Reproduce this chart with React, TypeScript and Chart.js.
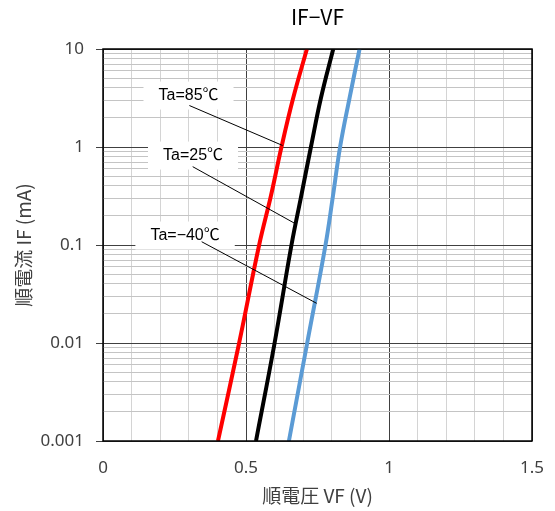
import React, { useEffect, useRef } from "react";
import { Chart, registerables } from "chart.js";

Chart.register(...registerables);

// ---- Data ----
const CURRENT_MA = [0.001, 0.01, 0.1, 0.316, 1, 3.16, 10];
const VF_85C = [0.402, 0.476, 0.546, 0.587, 0.624, 0.665, 0.713];
const VF_25C = [0.535, 0.6, 0.659, 0.693, 0.727, 0.762, 0.805];
const VF_M40C = [0.65, 0.714, 0.778, 0.804, 0.829, 0.862, 0.897];

const SERIES_NAMES = ["Ta=85℃", "Ta=25℃", "Ta=−40℃"];
const SERIES_COLORS = ["#FF0000", "#000000", "#5B9BD5"];

const X_GRID = [0, 0.1, 0.2, 0.3, 0.4, 0.5, 0.6, 0.7, 0.8, 0.9, 1, 1.1, 1.2, 1.3, 1.4, 1.5];
const X_LABEL_VALUES = [0, 0.5, 1, 1.5];
const X_LABELS = ["0", "0.5", "1", "1.5"];
const Y_DECADES = [0.001, 0.01, 0.1, 1, 10];
const Y_LABELS = ["0.001", "0.01", "0.1", "1", "10"];

// label text centre (x: V, y: mA), leader start, leader end
const LABEL_POS_X = [0.299, 0.3147, 0.287];
const LABEL_POS_Y = [3.35, 0.818, 0.125];
const LEADER_START_X = [0.302, 0.3136, 0.345];
const LEADER_START_Y = [2.65, 0.63, 0.108];
const LEADER_END_X = [0.628, 0.671, 0.747];
const LEADER_END_Y = [1.036, 0.166, 0.0254];

const TITLE = "IF−VF";
const X_TITLE = "順電圧 VF (V)";
const Y_TITLE = "順電流 IF (mA)";

const Y_GRID: number[] = [];
Y_DECADES.forEach((d, i) => {
  if (i === Y_DECADES.length - 1) {
    Y_GRID.push(d);
    return;
  }
  for (let m = 1; m <= 9; m++) Y_GRID.push(+(d * m).toPrecision(6));
});

const isDecade = (v: number) => {
  const l = Math.log10(v);
  return Math.abs(l - Math.round(l)) < 1e-6;
};
const isHalf = (v: number) => X_LABEL_VALUES.some((x) => Math.abs(x - v) < 1e-6);

const textFont = "'Noto Sans CJK JP', 'Noto Sans', sans-serif";
const labelFont = "'Liberation Sans', 'Noto Sans CJK JP', sans-serif";

const decoPlugin = {
  id: "deco",
  afterDatasetsDraw(chart: any) {
    const { ctx, chartArea, scales } = chart;
    const xs = scales.x;
    const ys = scales.y;
    ctx.save();
    // border
    ctx.strokeStyle = "#000000";
    ctx.lineWidth = 1.5;
    ctx.strokeRect(chartArea.left, chartArea.top, chartArea.right - chartArea.left, chartArea.bottom - chartArea.top);
    // labels
    ctx.font = `16px ${labelFont}`;
    SERIES_NAMES.forEach((name, i) => {
      const cx = xs.getPixelForValue(LABEL_POS_X[i]);
      const cy = ys.getPixelForValue(LABEL_POS_Y[i]);
      const w = ctx.measureText(name).width;
      ctx.fillStyle = "#FFFFFF";
      ctx.fillRect(cx - w / 2 - 15, cy - 14, w + 30, 28);
      ctx.fillStyle = "#000000";
      ctx.textAlign = "center";
      ctx.textBaseline = "middle";
      ctx.fillText(name, cx, cy);
    });
    ctx.strokeStyle = "#000000";
    ctx.lineWidth = 1;
    SERIES_NAMES.forEach((_, i) => {
      ctx.beginPath();
      ctx.moveTo(xs.getPixelForValue(LEADER_START_X[i]), ys.getPixelForValue(LEADER_START_Y[i]));
      ctx.lineTo(xs.getPixelForValue(LEADER_END_X[i]), ys.getPixelForValue(LEADER_END_Y[i]));
      ctx.stroke();
    });
    // title
    ctx.font = `21px ${textFont}`;
    ctx.fillStyle = "#000000";
    ctx.textAlign = "center";
    ctx.textBaseline = "middle";
    ctx.fillText(TITLE, (chartArea.left + chartArea.right) / 2, 17);
    ctx.restore();
  },
};

export default function App() {
  const ref = useRef<HTMLCanvasElement | null>(null);
  useEffect(() => {
    if (!ref.current) return;
    const series = [VF_85C, VF_25C, VF_M40C];
    const chart = new Chart(ref.current, {
      type: "line",
      data: {
        datasets: series.map((vals, i) => ({
          label: SERIES_NAMES[i],
          data: vals.map((v, j) => ({ x: v, y: CURRENT_MA[j] })),
          borderColor: SERIES_COLORS[i],
          backgroundColor: SERIES_COLORS[i],
          borderWidth: 4,
          pointRadius: 0,
          tension: 0.4,
          fill: false,
        })),
      },
      options: {
        responsive: false,
        animation: false,
        layout: { padding: { left: 0, right: 23, top: 49, bottom: 0 } },
        plugins: {
          legend: { display: false },
          title: { display: false },
          tooltip: { enabled: false },
        },
        scales: {
          x: {
            type: "linear",
            min: 0,
            max: 1.5,
            afterBuildTicks: (s: any) => {
              s.ticks = X_GRID.map((v) => ({ value: v }));
            },
            afterFit: (s: any) => {
              s.height = 70;
              s.paddingLeft = 0;
              s.paddingRight = 0;
            },
            ticks: {
              autoSkip: false,
              maxRotation: 0,
              padding: 17,
              color: "#404040",
              font: { family: "'Noto Sans', sans-serif", size: 17 },
              callback: (v: any) => {
                const idx = X_LABEL_VALUES.findIndex((x) => Math.abs(x - Number(v)) < 1e-6);
                return idx >= 0 ? X_LABELS[idx] : "";
              },
            },
            grid: {
              drawTicks: false,
              color: (c: any) => (isHalf(c.tick.value) ? "#404040" : "#d4d4d4"),
              lineWidth: 1,
            },
            border: { display: false },
            title: {
              display: true,
              text: X_TITLE,
              color: "#404040",
              font: { family: textFont, size: 19 },
              padding: { top: 0, bottom: 4 },
            },
          },
          y: {
            type: "logarithmic",
            min: 0.001,
            max: 10,
            afterBuildTicks: (s: any) => {
              s.ticks = Y_GRID.map((v) => ({ value: v }));
            },
            afterFit: (s: any) => {
              s.width = 103;
              s.paddingTop = 0;
              s.paddingBottom = 0;
            },
            ticks: {
              autoSkip: false,
              padding: 12,
              color: "#404040",
              font: { family: "'Noto Sans', sans-serif", size: 17 },
              callback: (v: any) => {
                const idx = Y_DECADES.findIndex((d) => Math.abs(d - Number(v)) / d < 1e-6);
                return idx >= 0 ? Y_LABELS[idx] : "";
              },
            },
            grid: {
              tickLength: 7,
              color: (c: any) => (isDecade(c.tick.value) ? "#404040" : "#c4c4c4"),
              tickColor: (c: any) => (isDecade(c.tick.value) ? "#404040" : "rgba(0,0,0,0)"),
              lineWidth: 1,
            },
            border: { display: false },
            title: {
              display: true,
              text: Y_TITLE,
              color: "#404040",
              font: { family: textFont, size: 19 },
              padding: { top: 12, bottom: 0 },
            },
          },
        },
      },
      plugins: [decoPlugin],
    } as any);
    return () => chart.destroy();
  }, []);
  return (
    <div style={{ position: "absolute", left: 0, top: 0, width: 555, height: 511, background: "#fff" }}>
      <canvas ref={ref} width={555} height={511} style={{ display: "block" }} />
    </div>
  );
}
